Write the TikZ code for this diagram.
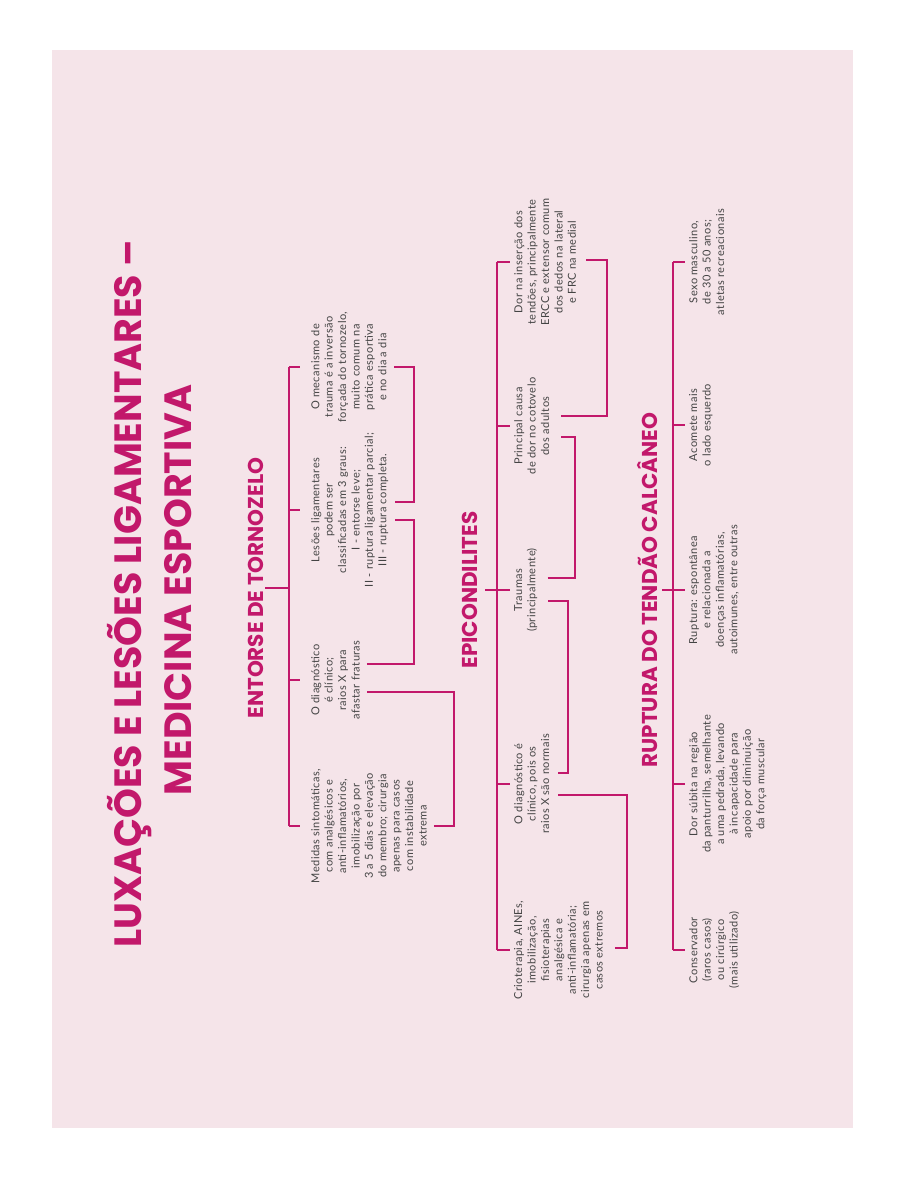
\documentclass[tikz,border=0pt]{standalone}
\usepackage{fontspec}
\setmainfont{Lato}[LetterSpace=4]
\newfontfamily\headfont{Poppins}
\usetikzlibrary{calc}

\definecolor{rosa}{HTML}{F5E4E9}
\definecolor{ptmag}{HTML}{C2186B}
\definecolor{texto}{HTML}{444444}

\tikzset{
  link/.style={draw=ptmag, line width=1.4pt},
  leaf/.style={rotate=90, anchor=north, align=center, inner sep=0pt, text=texto,
    font=\fontsize{11}{13.4}\selectfont},
  heading/.style={rotate=90, anchor=base, inner sep=0pt, text=ptmag,
    font=\headfont\bfseries\fontsize{21.5}{21.5}\selectfont},
  maintitle/.style={heading, font=\headfont\bfseries\fontsize{38}{38}\selectfont},
}

\begin{document}
\begin{tikzpicture}[x=1pt,y=-1pt]
	\useasboundingbox (0,0) rectangle (905,1180);
	\fill[white] (0,0) rectangle (905,1180);
	\fill[rosa] (52,50) rectangle (853,1128);

	%title
	\node[maintitle] (t1) at (141,594) {LUXAÇÕES E LESÕES LIGAMENTARES –};
	\node[maintitle] (t2) at (191,590) {MEDICINA ESPORTIVA};

	%entorse
	\node[heading] (h1) at (263,588) {ENTORSE DE TORNOZELO};
	\node[leaf] (e1) at (311,826) {Medidas sintomáticas,\\com analgésicos e\\anti-inflamatórios,\\imobilização por\\3 a 5 dias e elevação\\do membro; cirurgia\\apenas para casos\\com instabilidade\\extrema};
	\node[leaf] (e2) at (311,680) {O diagnóstico\\é clínico;\\raios X para\\afastar fraturas};
	\node[leaf] (e3) at (311,510) {Lesões ligamentares\\podem ser\\classificadas em 3 graus:\\I - entorse leve;\\II - ruptura ligamentar parcial;\\III - ruptura completa.};
	\node[leaf] (e4) at (311,367) {O mecanismo de\\trauma é a inversão\\forçada do tornozelo,\\muito comum na\\prática esportiva\\e no dia a dia};

	\draw[link] ($(h1.base)+(2,0)$) -- ++(24,0);
	\draw[link] ($(e1.north)+(-22,0)$) -- ($(e4.north)+(-22,0)$);
	\foreach \n in {e1,e2,e3,e4}
		\draw[link] ($(\n.north)+(-22,0)$) -- ++(11,0);

	\draw[link] ($(e1.south)+(7,0)$) -| (454,692) -- ($(e2.south)+(7,12)$);
	\draw[link] ($(e2.south)+(7,-16)$) -| (414,520) -- ($(e3.south)+(7,10)$);
	\draw[link] ($(e3.south)+(7,-8)$) -| (414,367) -- ($(e4.south)+(7,0)$);

	%epicondilites
	\node[heading] (h2) at (477,590) {EPICONDILITES};
	\node[leaf] (p1) at (514,950) {Crioterapia, AINEs,\\imobilização,\\fisioterapias\\analgésica e\\anti-inflamatória;\\cirurgia apenas em\\casos extremos};
	\node[leaf] (p2) at (514,784) {O diagnóstico é\\clínico, pois os\\raios X são normais};
	\node[leaf] (p3) at (514,590) {Traumas\\(principalmente)};
	\node[leaf] (p4) at (514,426) {Principal causa\\de dor no cotovelo\\dos adultos};
	\node[leaf] (p5) at (514,262) {Dor na inserção dos\\tendões, principalmente\\ERCC e extensor comum\\dos dedos na lateral\\e FRC na medial};

	\draw[link] ($(h2.base)+(8,0)$) -- ++(25,0);
	\draw[link] ($(p1.north)+(-17,0)$) -- ($(p5.north)+(-17,0)$);
	\foreach \n in {p1,p2,p3,p4,p5}
		\draw[link] ($(\n.north)+(-17,0)$) -- ++(13,0);

	\draw[link] ($(p1.south)+(12,-2)$) -| (627,795) -- ($(p2.south)+(9,11)$);
	\draw[link] ($(p2.south)+(9,-11)$) -| (568,601) -- ($(p3.south)+(10,11)$);
	\draw[link] ($(p3.south)+(10,-12)$) -| (575,437) -- ($(p4.south)+(12,11)$);
	\draw[link] ($(p4.south)+(12,-10)$) -| (607,260) -- ($(p5.south)+(10,-2)$);

	%ruptura
	\node[heading] (h3) at (657,590) {RUPTURA DO TENDÃO CALCÂNEO};
	\node[leaf] (r1) at (689,950) {Conservador\\(raros casos)\\ou cirúrgico\\(mais utilizado)};
	\node[leaf] (r2) at (689,784) {Dor súbita na região\\da panturrilha, semelhante\\a uma pedrada, levando\\à incapacidade para\\apoio por diminuição\\da força muscular};
	\node[leaf] (r3) at (689,590) {Ruptura: espontânea\\e relacionada a\\doenças inflamatórias,\\autoimunes, entre outras};
	\node[leaf] (r4) at (689,425) {Acomete mais\\o lado esquerdo};
	\node[leaf] (r5) at (689,262) {Sexo masculino,\\de 30 a 50 anos;\\atletas recreacionais};

	\draw[link] ($(h3.base)+(5,0)$) -- ++(23,0);
	\draw[link] ($(r1.north)+(-16,0)$) -- ($(r5.north)+(-16,0)$);
	\foreach \n in {r1,r2,r3,r4,r5}
		\draw[link] ($(\n.north)+(-16,0)$) -- ++(12,0);

\end{tikzpicture}
\end{document}
